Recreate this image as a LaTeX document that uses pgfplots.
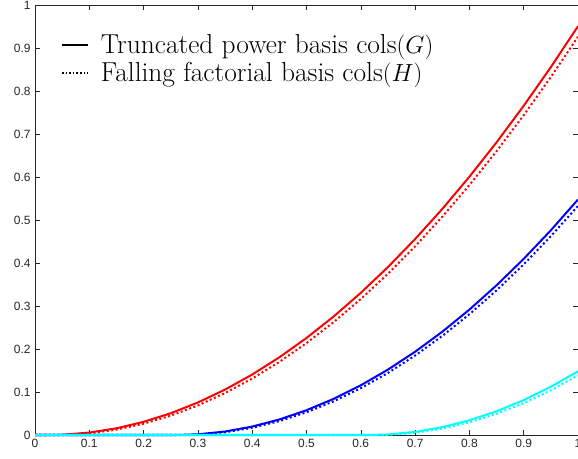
\documentclass[border=0pt]{standalone}
\usepackage{pgfplots}
\pgfplotsset{compat=1.18}
\usepackage{fontspec}
\newfontfamily\ticksfont{Liberation Sans}
\definecolor{mred}{rgb}{1,0,0}
\definecolor{mblue}{rgb}{0,0,1}
\definecolor{mcyan}{rgb}{0,1,1}
\definecolor{axgray}{rgb}{0.15,0.15,0.15}
\begin{document}
\begin{tikzpicture}
\begin{axis}[
  scale only axis, width=543bp, height=430bp,
  xmin=0, xmax=1, ymin=0, ymax=1,
  xtick={0,0.1,0.2,0.3,0.4,0.5,0.6,0.7,0.8,0.9,1},
  xticklabels={0,0.1,0.2,0.3,0.4,0.5,0.6,0.7,0.8,0.9,1},
  ytick={0,0.1,0.2,0.3,0.4,0.5,0.6,0.7,0.8,0.9,1},
  yticklabels={0,0.1,0.2,0.3,0.4,0.5,0.6,0.7,0.8,0.9,1},
  tick align=inside, major tick length=5bp,
  axis line style={color=axgray, line width=0.6bp},
  tick style={color=axgray, line width=0.6bp},
  ticklabel style={font=\ticksfont\fontsize{12}{14}\selectfont, text=axgray},
  yticklabel style={xshift=-1bp},
  xticklabel style={yshift=-1bp},
  /pgf/number format/assume math mode=true,
  clip=false,
  legend style={draw=none, fill=none, at={(0.042,0.94)}, anchor=north west,
    font=\fontsize{27.5}{32}\selectfont, row sep=3bp, column sep=10bp},
  legend cell align=left,
  legend image code/.code={\draw[#1] (0bp,0bp) -- (26bp,0bp);},
]
\addlegendimage{black, line width=2bp}
\addlegendentry{Truncated power basis cols$(G)$}
\addlegendimage{black, line width=1.6bp, dash pattern=on 1.6bp off 2bp}
\addlegendentry{Falling factorial basis cols$(H)$}

% red
\addplot[mred, line width=2bp, forget plot] coordinates {
(0,0) (0.025,0) (0.05,0.000625) (0.1,0.005625) (0.15,0.015625) (0.2,0.030625)
(0.25,0.050625) (0.3,0.075625) (0.35,0.105625) (0.4,0.140625) (0.45,0.180625)
(0.5,0.225625) (0.55,0.275625) (0.6,0.330625) (0.65,0.390625) (0.7,0.455625)
(0.75,0.525625) (0.8,0.600625) (0.85,0.680625) (0.9,0.765625) (0.95,0.855625)
(1.0,0.950625)};
\addplot[mred, line width=2bp, dash pattern=on 2bp off 2.5bp, forget plot] coordinates {
(0,0) (0.05,0) (0.1,0.00375) (0.15,0.0125) (0.2,0.02625) (0.25,0.045)
(0.3,0.06875) (0.35,0.0975) (0.4,0.13125) (0.45,0.17) (0.5,0.21375)
(0.55,0.2625) (0.6,0.31625) (0.65,0.375) (0.7,0.43875) (0.75,0.5075)
(0.8,0.58125) (0.85,0.66) (0.9,0.74375) (0.95,0.8325) (1.0,0.92625)};
% blue
\addplot[mblue, line width=2bp, forget plot] coordinates {
(0,0) (0.26,0) (0.3,0.0016) (0.35,0.0081) (0.4,0.0196) (0.45,0.0361)
(0.5,0.0576) (0.55,0.0841) (0.6,0.1156) (0.65,0.1521) (0.7,0.1936)
(0.75,0.2401) (0.8,0.2916) (0.85,0.3481) (0.9,0.4096) (0.95,0.4761) (1.0,0.5476)};
\addplot[mblue, line width=2bp, dash pattern=on 2bp off 2.5bp, forget plot] coordinates {
(0,0) (0.28,0) (0.3,0.0008) (0.35,0.0063) (0.4,0.0168) (0.45,0.0323)
(0.5,0.0528) (0.55,0.0783) (0.6,0.1088) (0.65,0.1443) (0.7,0.1848)
(0.75,0.2303) (0.8,0.2808) (0.85,0.3363) (0.9,0.3968) (0.95,0.4623) (1.0,0.5328)};
% cyan
\addplot[mcyan, line width=2bp, forget plot] coordinates {
(0,0) (0.615,0) (0.65,0.001225) (0.7,0.007225) (0.75,0.018225) (0.8,0.034225)
(0.85,0.055225) (0.9,0.081225) (0.95,0.112225) (1.0,0.148225)};
\addplot[mcyan, line width=2bp, dash pattern=on 2bp off 2.5bp, forget plot] coordinates {
(0,0) (0.64,0) (0.65,0.00035) (0.7,0.0051) (0.75,0.01485) (0.8,0.0296)
(0.85,0.04935) (0.9,0.0741) (0.95,0.10385) (1.0,0.1386)};
\end{axis}
\pgfresetboundingbox
\useasboundingbox (-35bp,-24bp) rectangle (543bp,435bp);
\end{tikzpicture}
\end{document}
